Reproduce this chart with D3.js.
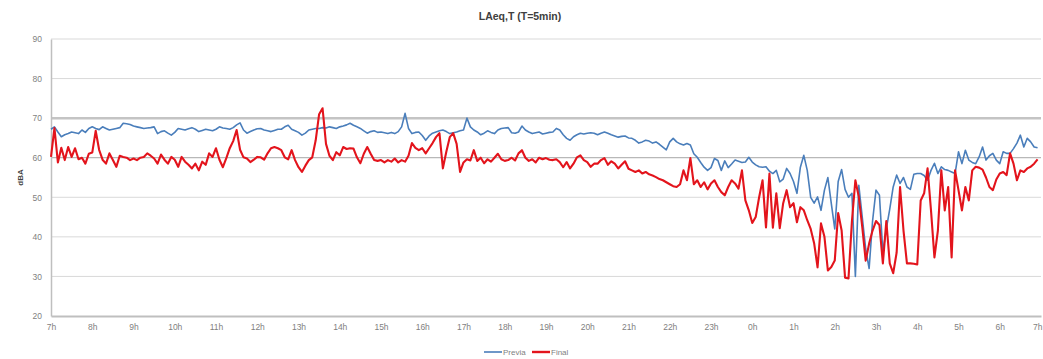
<!DOCTYPE html>
<html>
<head>
<meta charset="utf-8">
<script src="https://cdn.jsdelivr.net/npm/d3@7/dist/d3.min.js"></script>
<style>
  html, body { margin: 0; padding: 0; background: #fff; }
  svg { display: block; font-family: "Liberation Sans", Arial, sans-serif; }
</style>
</head>
<body>
<svg id="chart" width="1043" height="359"></svg>
<script>
// Hour labels along the x axis (24 h, starting at 7h)
const hourLabels = ["7h","8h","9h","10h","11h","12h","13h","14h","15h","16h","17h","18h",
  "19h","20h","21h","22h","23h","0h","1h","2h","3h","4h","5h","6h","7h"];

// Y axis ticks (dBA)
const yTicks = [20, 30, 40, 50, 60, 70, 80, 90];

// LAeq,T with T = 5 min, 12 values per hour, starting at 7h — "Previa"
const previa = [
  67.2, 67.8, 66.5, 65.3, 65.8, 66.1, 66.5, 66.3, 66.1, 67.0, 66.4, 67.4,   // 7h
  67.8, 67.4, 67.1, 67.8, 67.4, 67.0, 67.2, 67.4, 67.6, 68.7, 68.6, 68.4,   // 8h
  68.0, 67.8, 67.6, 67.4, 67.5, 67.6, 67.8, 66.1, 66.6, 66.8, 66.2, 65.7,   // 9h
  66.4, 67.4, 67.2, 67.0, 67.3, 67.6, 67.2, 66.6, 66.9, 67.2, 67.0, 66.8,   // 10h
  67.2, 67.8, 67.5, 67.4, 67.2, 67.6, 68.3, 68.8, 67.0, 66.2, 66.6, 67.0,   // 11h
  67.3, 67.4, 67.0, 66.8, 66.6, 66.9, 67.2, 67.2, 67.8, 68.2, 67.2, 66.8,   // 12h
  66.4, 65.7, 66.2, 67.0, 67.2, 67.4, 67.4, 67.6, 67.5, 67.8, 67.6, 67.4,   // 13h
  67.8, 68.0, 68.3, 68.7, 68.2, 67.8, 67.4, 66.8, 66.2, 66.6, 66.8, 66.4,   // 14h
  66.5, 66.3, 66.1, 66.4, 66.1, 66.6, 67.8, 71.2, 67.4, 66.1, 66.4, 66.5,   // 15h
  65.6, 64.4, 65.5, 66.2, 66.5, 66.8, 67.0, 66.6, 66.1, 66.3, 66.5, 66.8,   // 16h
  67.0, 70.0, 67.8, 67.0, 66.5, 65.8, 66.2, 66.8, 66.4, 66.1, 67.0, 67.4,   // 17h
  67.5, 67.6, 66.3, 66.2, 66.5, 68.0, 67.0, 66.5, 66.1, 66.3, 66.5, 66.0,   // 18h
  66.2, 66.4, 66.5, 67.4, 67.0, 65.8, 64.9, 64.4, 65.3, 65.8, 66.2, 66.0,   // 19h
  66.2, 66.3, 66.2, 65.8, 66.2, 66.5, 66.2, 65.8, 65.5, 65.2, 65.4, 65.5,   // 20h
  65.0, 64.9, 64.4, 63.7, 64.0, 64.4, 64.2, 63.7, 64.0, 63.4, 62.7, 62.0,   // 21h
  64.0, 64.9, 64.0, 63.5, 63.2, 63.6, 63.2, 61.0, 60.1, 58.8, 57.6, 56.8,   // 22h
  57.5, 59.8, 59.3, 56.8, 59.2, 57.5, 58.4, 59.4, 59.1, 58.8, 58.9, 60.1,   // 23h
  58.9, 58.2, 57.7, 57.6, 57.7, 56.6, 56.0, 56.8, 53.9, 54.6, 57.3, 56.0,   // 0h
  54.0, 51.0, 57.6, 60.6, 56.8, 50.0, 48.5, 50.1, 46.7, 51.8, 55.0, 48.4,   // 1h
  42.0, 54.0, 57.0, 52.0, 50.0, 51.0, 30.0, 53.0, 45.0, 37.0, 32.0, 44.0,   // 2h
  51.8, 50.5, 36.0, 42.0, 47.0, 52.6, 55.6, 53.5, 55.0, 52.6, 52.0, 55.8,   // 3h
  56.0, 56.0, 55.5, 54.3, 56.8, 58.6, 56.0, 57.7, 57.0, 56.8, 56.4, 56.0,   // 4h
  61.5, 58.5, 61.9, 59.4, 58.8, 58.5, 60.2, 62.7, 59.4, 60.5, 61.1, 59.4,   // 5h
  58.5, 61.5, 61.1, 61.1, 62.3, 63.7, 65.7, 62.7, 64.9, 64.0, 62.7, 62.5    // 6h
];

// LAeq,T with T = 5 min, 12 values per hour, starting at 7h — "Final"
const final = [
  60.2, 67.5, 58.8, 62.5, 59.4, 62.7, 60.2, 62.4, 59.6, 60.0, 58.5, 61.0,   // 7h
  61.3, 66.8, 62.0, 59.5, 58.5, 61.1, 59.4, 57.7, 60.5, 60.2, 60.0, 59.4,   // 8h
  59.8, 59.4, 60.0, 60.2, 61.1, 60.5, 59.8, 58.5, 60.8, 59.5, 58.5, 60.2,   // 9h
  59.5, 57.7, 60.2, 59.0, 58.2, 57.3, 58.5, 56.8, 59.0, 58.2, 61.1, 60.2,   // 10h
  62.4, 59.5, 57.6, 59.9, 62.4, 64.2, 67.0, 62.0, 60.1, 59.8, 58.9, 59.5,   // 11h
  60.2, 60.1, 59.5, 61.1, 62.4, 62.7, 62.4, 61.9, 60.1, 59.6, 61.9, 59.4,   // 12h
  57.6, 56.4, 58.0, 59.4, 60.1, 64.4, 71.0, 72.5, 63.5, 60.5, 59.4, 61.4,   // 13h
  60.6, 62.7, 62.2, 62.4, 62.3, 60.1, 58.6, 61.0, 62.7, 61.0, 59.4, 59.2,   // 14h
  59.4, 58.8, 59.4, 59.0, 59.8, 58.8, 59.4, 59.0, 60.5, 63.7, 62.5, 61.9,   // 15h
  62.4, 61.1, 62.4, 63.7, 65.2, 66.2, 57.3, 61.5, 65.2, 66.2, 63.5, 56.4,   // 16h
  58.8, 59.6, 59.3, 61.9, 59.2, 60.0, 58.6, 59.6, 59.0, 60.0, 61.0, 59.6,   // 17h
  59.2, 59.4, 60.0, 59.3, 61.1, 61.9, 60.0, 59.2, 59.6, 58.8, 60.0, 59.6,   // 18h
  59.9, 59.5, 59.4, 59.6, 58.9, 57.6, 58.9, 57.3, 58.5, 60.1, 60.6, 59.4,   // 19h
  58.9, 57.7, 58.5, 58.5, 59.4, 59.9, 58.2, 59.1, 58.5, 57.3, 58.2, 59.1,   // 20h
  57.2, 56.8, 56.4, 56.8, 56.0, 56.4, 55.8, 55.5, 55.1, 54.6, 54.3, 53.8,   // 21h
  53.3, 52.8, 52.6, 53.3, 56.8, 54.3, 59.9, 53.3, 54.3, 52.6, 53.8, 52.0,   // 22h
  53.5, 54.3, 52.6, 51.3, 50.5, 52.6, 54.3, 53.5, 52.2, 56.8, 49.2, 46.7,   // 23h
  43.5, 45.0, 50.0, 54.3, 42.4, 56.0, 42.3, 51.0, 42.2, 48.5, 51.8, 47.5,   // 0h
  48.5, 43.7, 47.5, 46.7, 44.2, 42.0, 38.4, 32.3, 43.4, 40.0, 31.5, 32.4,   // 1h
  34.0, 46.0, 41.6, 29.7, 29.5, 44.0, 54.3, 50.1, 42.5, 34.0, 38.3, 41.6,   // 2h
  44.0, 43.0, 33.3, 44.0, 33.3, 30.8, 36.0, 52.6, 41.6, 33.3, 33.3, 33.2,   // 3h
  33.0, 49.2, 51.0, 57.3, 46.7, 34.8, 41.6, 56.8, 46.7, 52.6, 34.8, 56.8,   // 4h
  51.8, 46.7, 52.6, 49.2, 56.8, 57.7, 57.5, 57.0, 55.0, 52.6, 51.8, 54.5,   // 5h
  56.0, 56.4, 55.6, 61.1, 58.5, 54.3, 56.8, 56.4, 57.3, 57.7, 58.5, 59.6    // 6h
];

const svg = d3.select("#chart");
const margin = { left: 51, right: 2, top: 39, bottom: 43 };
const W = 1043, H = 359;

const x = d3.scaleLinear().domain([0, 24]).range([margin.left, W - margin.right]);
const y = d3.scaleLinear().domain([20, 90]).range([H - margin.bottom, margin.top]);

// horizontal grid
svg.append("g").selectAll("line")
  .data(yTicks.filter(d => d > 20))
  .join("line")
  .attr("x1", x(0)).attr("x2", x(24))
  .attr("y1", d => y(d)).attr("y2", d => y(d))
  .attr("stroke", d => d === 70 ? "#c4c4c4" : d === 60 ? "#a6a6a6" : "#d9d9d9")
  .attr("stroke-width", d => d === 70 ? 2.5 : 1);

// y axis
const yAxis = d3.axisLeft(y).tickValues(yTicks).tickSize(0).tickPadding(9);
const gy = svg.append("g").attr("transform", `translate(${x(0)},0)`).call(yAxis);
gy.select(".domain").attr("stroke", "#bfbfbf").attr("stroke-width", 1.5);
gy.selectAll("text").attr("fill", "#7f7f7f").attr("font-size", 8.5);

// x axis
const xAxis = d3.axisBottom(x).tickValues(d3.range(25))
  .tickFormat(i => hourLabels[i]).tickSize(0).tickPadding(8);
const gx = svg.append("g").attr("transform", `translate(0,${y(20)})`).call(xAxis);
gx.select(".domain").attr("stroke", "#bfbfbf").attr("stroke-width", 2);
gx.selectAll("text").attr("fill", "#7f7f7f").attr("font-size", 8.5);
// keep the closing "7h" inside the canvas
gx.selectAll(".tick").filter(d => d === 24).select("text")
  .attr("text-anchor", "end").attr("dx", 1);

// series
const line = d3.line()
  .x((d, i) => x(i / 12))
  .y(d => y(d));

svg.append("path").datum(previa)
  .attr("fill", "none").attr("stroke", "#4a7ebb")
  .attr("stroke-width", 1.6).attr("stroke-linejoin", "round")
  .attr("d", line);

svg.append("path").datum(final)
  .attr("fill", "none").attr("stroke", "#e3141c")
  .attr("stroke-width", 2.1).attr("stroke-linejoin", "round")
  .attr("d", line);

// title
svg.append("text")
  .attr("x", 520).attr("y", 20)
  .attr("text-anchor", "middle")
  .attr("font-size", 10.5).attr("font-weight", "bold").attr("fill", "#404040")
  .text("LAeq,T (T=5min)");

// y axis title
svg.append("text")
  .attr("transform", `translate(23,${(y(20) + y(90)) / 2}) rotate(-90)`)
  .attr("text-anchor", "middle")
  .attr("font-size", 8).attr("font-weight", "bold").attr("fill", "#404040")
  .text("dBA");

// legend
const legend = svg.append("g").attr("transform", "translate(484,352)");
const items = [
  { name: "Previa", color: "#4a7ebb", width: 1.6, x: 0 },
  { name: "Final", color: "#e3141c", width: 2.4, x: 48 }
];
items.forEach(it => {
  legend.append("line")
    .attr("x1", it.x).attr("x2", it.x + 18)
    .attr("y1", 0).attr("y2", 0)
    .attr("stroke", it.color).attr("stroke-width", it.width);
  legend.append("text")
    .attr("x", it.x + 19).attr("y", 3)
    .attr("font-size", 8).attr("fill", "#7f7f7f")
    .text(it.name);
});
</script>
</body>
</html>
